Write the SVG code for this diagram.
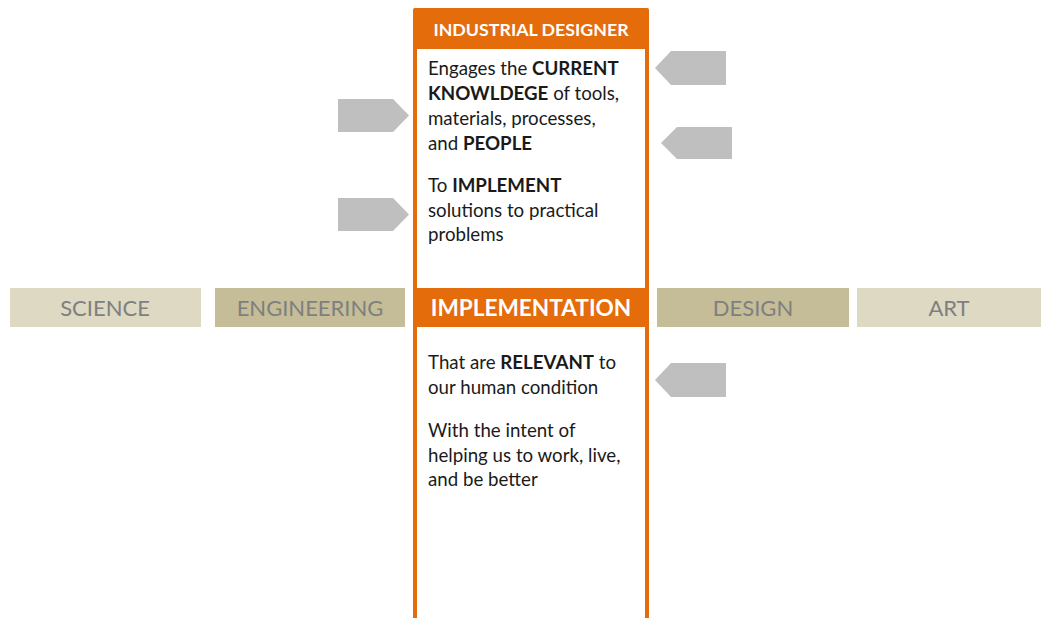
<svg xmlns="http://www.w3.org/2000/svg" width="1041" height="618" viewBox="0 0 1041 618">
<style>
.band-light{fill:#ddd9c3}
.band-dark{fill:#c4bd97}
.band-txt{font-family:Lato,"Liberation Sans",sans-serif;font-size:22px;fill:#7f7f7f;text-anchor:middle}
.body{font-family:Lato,"Liberation Sans",sans-serif;font-size:18.7px;fill:#1a1a1a}
.body tspan.b{font-weight:bold}
.hdr{font-family:Lato,"Liberation Sans",sans-serif;font-weight:bold;fill:#ffffff;text-anchor:middle}
.arrow{fill:#bfbfbf}
</style>
<rect width="1041" height="618" fill="#ffffff"/>
<g id="science"><rect class="band-light" x="10" y="288" width="191" height="39"/><text class="band-txt" x="105" y="316">SCIENCE</text></g>
<g id="engineering"><rect class="band-dark" x="215" y="288" width="190" height="39"/><text class="band-txt" x="310" y="316">ENGINEERING</text></g>
<g id="design"><rect class="band-dark" x="657" y="288" width="192" height="39"/><text class="band-txt" x="753" y="316">DESIGN</text></g>
<g id="art"><rect class="band-light" x="857" y="288" width="184" height="39"/><text class="band-txt" x="949" y="316">ART</text></g>
<g id="industrial-designer">
<rect x="415" y="10" width="232" height="640" fill="#ffffff" stroke="#e46c0a" stroke-width="4" rx="2"/>
<rect x="413" y="8" width="236" height="41" fill="#e46c0a" rx="2"/>
<text class="hdr" x="531" y="36" font-size="17.8">INDUSTRIAL DESIGNER</text>
<text class="body" x="428" y="75">Engages the <tspan class="b">CURRENT</tspan></text>
<text class="body" x="428" y="100"><tspan class="b">KNOWLDEGE</tspan> of tools,</text>
<text class="body" x="428" y="125">materials, processes,</text>
<text class="body" x="428" y="150">and <tspan class="b">PEOPLE</tspan></text>
<text class="body" x="428" y="192">To <tspan class="b">IMPLEMENT</tspan></text>
<text class="body" x="428" y="217">solutions to practical</text>
<text class="body" x="428" y="241">problems</text>
<text class="body" x="428" y="369">That are <tspan class="b">RELEVANT</tspan> to</text>
<text class="body" x="428" y="394">our human condition</text>
<text class="body" x="428" y="437">With the intent of</text>
<text class="body" x="428" y="462">helping us to work, live,</text>
<text class="body" x="428" y="486">and be better</text>
</g>
<g id="implementation">
<rect x="413" y="288" width="236" height="39" fill="#e46c0a"/>
<text class="hdr" x="531" y="316" font-size="22.6">IMPLEMENTATION</text>
</g>
<g id="connectors">
<polygon class="arrow" points="338,99 393,99 409,115.5 393,132 338,132"/>
<polygon class="arrow" points="338,198 393,198 409,214.5 393,231 338,231"/>
<polygon class="arrow" points="726,51 671,51 655,68 671,85 726,85"/>
<polygon class="arrow" points="732,127 677,127 661,143 677,159 732,159"/>
<polygon class="arrow" points="726,363 671,363 655,380 671,397 726,397"/>
</g>
</svg>
